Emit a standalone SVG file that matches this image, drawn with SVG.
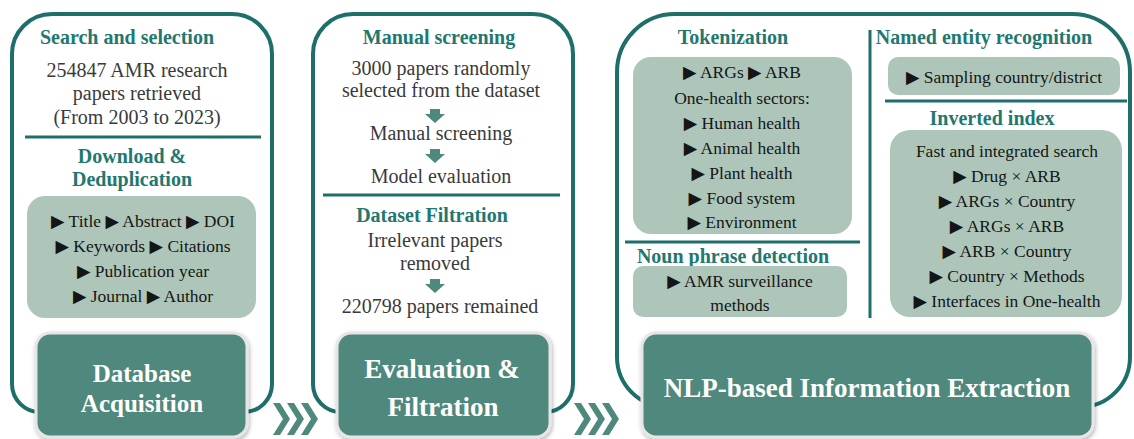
<svg xmlns="http://www.w3.org/2000/svg" width="1134" height="439" viewBox="0 0 1134 439">
<defs>
<style>
.outline{fill:#ffffff;stroke:#1e6f6a;stroke-width:4}
.div{stroke:#1e6f6a;stroke-width:3;fill:none}
.light{fill:#adc6b9}
.dark{fill:#4f887c;stroke:#e6e6e6;stroke-width:3;filter:url(#sh)}
.ttl{font-family:"Liberation Serif","DejaVu Serif",serif;font-weight:bold;font-size:20px;fill:#22786f;text-anchor:middle}
.body{font-family:"Liberation Serif","DejaVu Serif",serif;font-size:20px;fill:#3a3a3a;text-anchor:middle}
.bx{font-family:"Liberation Serif","DejaVu Serif",serif;font-size:17.5px;fill:#151515;text-anchor:middle}
.big{font-family:"Liberation Serif","DejaVu Serif",serif;font-weight:bold;fill:#ffffff;text-anchor:middle}
.chev{fill:#4f887c}
.arr{fill:#4f887c}
</style>
<filter id="sh" x="-10%" y="-10%" width="120%" height="130%">
<feDropShadow dx="1" dy="2" stdDeviation="2" flood-color="#000000" flood-opacity="0.3"/>
</filter>
<polygon id="chv" points="0,0 7,0 17,16 7,32 0,32 10,16"/>
<path id="darr" d="M -5 0 H 5 V 5 H 10 L 0 14 L -10 5 H -5 Z"/>
</defs>

<g id="panel-database">
<path class="outline" d="M 12 54 A 40 40 0 0 1 52 14 L 232 14 A 40 40 0 0 1 272 54 L 272 384 A 28 28 0 0 1 244 412 L 40 412 A 28 28 0 0 1 12 384 Z"/>
<text class="ttl" x="127" y="44">Search and selection</text>
<text class="body" x="137" y="77">254847 AMR research</text>
<text class="body" x="137" y="100">papers retrieved</text>
<text class="body" x="137" y="124">(From 2003 to 2023)</text>
<line class="div" x1="25" y1="137" x2="261" y2="137"/>
<text class="ttl" x="132" y="163">Download &amp;</text>
<text class="ttl" x="132" y="186">Deduplication</text>
<rect class="light" x="27" y="196" width="229" height="122" rx="18"/>
<text class="bx" x="143" y="227">▶ Title ▶ Abstract ▶ DOI</text>
<text class="bx" x="143" y="252">▶ Keywords ▶ Citations</text>
<text class="bx" x="143" y="277">▶ Publication year</text>
<text class="bx" x="143" y="302">▶ Journal ▶ Author</text>
</g>

<g id="panel-evaluation">
<path class="outline" d="M 313 54 A 40 40 0 0 1 353 14 L 533 14 A 40 40 0 0 1 573 54 L 573 384 A 28 28 0 0 1 545 412 L 341 412 A 28 28 0 0 1 313 384 Z"/>
<text class="ttl" x="439" y="44">Manual screening</text>
<text class="body" x="441" y="75">3000 papers randomly</text>
<text class="body" x="441" y="97">selected from the dataset</text>
<use href="#darr" class="arr" x="435" y="109"/>
<text class="body" x="441" y="140">Manual screening</text>
<use href="#darr" class="arr" x="435" y="149"/>
<text class="body" x="441" y="183">Model evaluation</text>
<line class="div" x1="323" y1="195" x2="560" y2="195"/>
<text class="ttl" x="432" y="222">Dataset Filtration</text>
<text class="body" x="435" y="247">Irrelevant papers</text>
<text class="body" x="435" y="270">removed</text>
<use href="#darr" class="arr" x="435" y="279"/>
<text class="body" x="440" y="313">220798 papers remained</text>
</g>

<g id="panel-nlp">
<path class="outline" d="M 617 72 A 58 58 0 0 1 675 14 L 1072 14 A 58 58 0 0 1 1130 72 L 1130 357 A 50 50 0 0 1 1080 407 L 667 407 A 50 50 0 0 1 617 357 Z"/>
<line class="div" x1="870" y1="30" x2="870" y2="318"/>
<text class="ttl" x="733" y="44">Tokenization</text>
<rect class="light" x="633" y="57" width="219" height="177" rx="18"/>
<text class="bx" x="742" y="78">▶ ARGs ▶ ARB</text>
<text class="bx" x="742" y="104">One-health sectors:</text>
<text class="bx" x="742" y="129">▶ Human health</text>
<text class="bx" x="742" y="154">▶ Animal health</text>
<text class="bx" x="742" y="179">▶ Plant health</text>
<text class="bx" x="742" y="204">▶ Food system</text>
<text class="bx" x="742" y="228">▶ Environment</text>
<line class="div" x1="625" y1="242" x2="860" y2="242"/>
<text class="ttl" x="733" y="263">Noun phrase detection</text>
<rect class="light" x="633" y="266" width="214" height="51" rx="10"/>
<text class="bx" x="740" y="287">▶ AMR surveillance</text>
<text class="bx" x="740" y="311">methods</text>
<text class="ttl" x="984" y="44">Named entity recognition</text>
<rect class="light" x="888" y="57" width="232" height="38" rx="10"/>
<text class="bx" x="1004" y="83">▶ Sampling country/district</text>
<line class="div" x1="885" y1="101" x2="1127" y2="101"/>
<text class="ttl" x="992" y="125">Inverted index</text>
<rect class="light" x="890" y="130" width="232" height="187" rx="20"/>
<text class="bx" x="1007" y="157">Fast and integrated search</text>
<text class="bx" x="1007" y="182">▶ Drug × ARB</text>
<text class="bx" x="1007" y="207">▶ ARGs × Country</text>
<text class="bx" x="1007" y="232">▶ ARGs × ARB</text>
<text class="bx" x="1007" y="257">▶ ARB × Country</text>
<text class="bx" x="1007" y="282">▶ Country × Methods</text>
<text class="bx" x="1007" y="307">▶ Interfaces in One-health</text>
</g>

<g id="node-database-acquisition">
<rect class="dark" x="36" y="333" width="211" height="104" rx="14"/>
<text class="big" x="142" y="382" font-size="25">Database</text>
<text class="big" x="142" y="412" font-size="25">Acquisition</text>
</g>

<g id="node-evaluation-filtration">
<rect class="dark" x="337" y="333" width="213" height="104" rx="14"/>
<text class="big" x="442" y="378" font-size="27">Evaluation &amp;</text>
<text class="big" x="443" y="416" font-size="27">Filtration</text>
</g>

<g id="node-nlp-extraction">
<rect class="dark" x="642" y="333" width="451" height="104" rx="14"/>
<text class="big" x="867" y="397" font-size="27">NLP-based Information Extraction</text>
</g>

<g id="connectors">
<use href="#chv" class="chev" x="273" y="403"/>
<use href="#chv" class="chev" x="287" y="403"/>
<use href="#chv" class="chev" x="301" y="403"/>
<use href="#chv" class="chev" x="574" y="403"/>
<use href="#chv" class="chev" x="588" y="403"/>
<use href="#chv" class="chev" x="602" y="403"/>
</g>
</svg>
